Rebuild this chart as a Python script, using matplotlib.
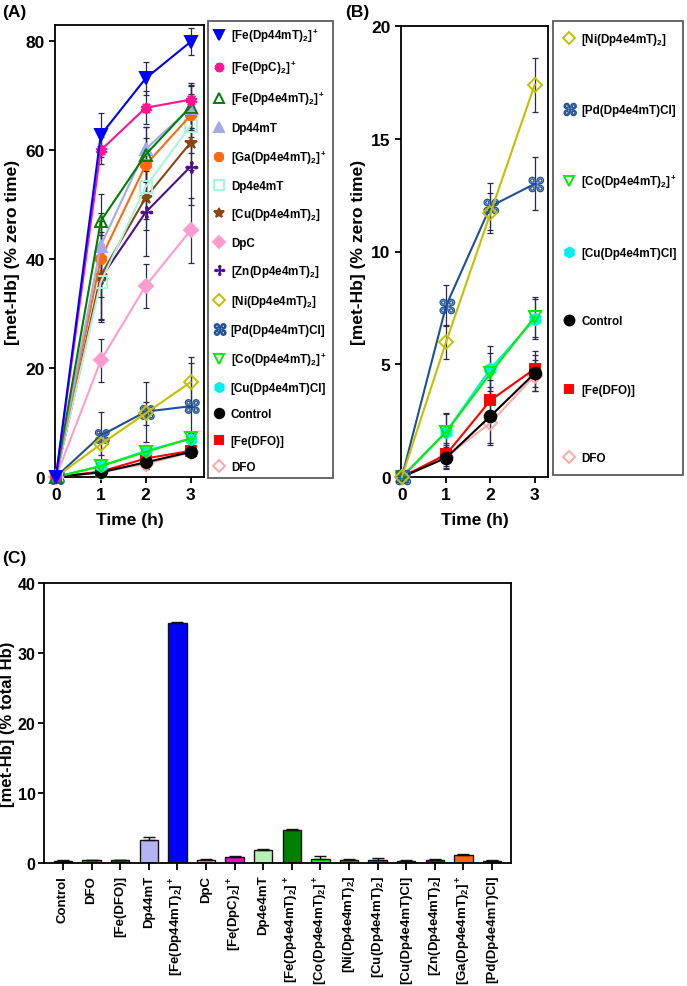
"""Met-Hb formation: time course (A, B) and bar summary (C)."""

import matplotlib
matplotlib.use("Agg")
import matplotlib.pyplot as plt
import numpy as np
from matplotlib.font_manager import FontProperties
from matplotlib.path import Path
from matplotlib.textpath import TextPath

plt.rcParams.update({
    "font.family": ["Liberation Sans", "DejaVu Sans"],
    "font.weight": "bold",
    "mathtext.fontset": "custom",
    "mathtext.rm": "Liberation Sans:bold",
    "mathtext.bf": "Liberation Sans:bold",
    "mathtext.it": "Liberation Sans:bold:italic",
    "axes.linewidth": 1.3,
})

# ---- data: panels A / B -------------------------------------------------
hours = [0, 1, 2, 3]

labels_a = [
    r"[Fe(Dp44mT)$_2$]$^+$", r"[Fe(DpC)$_2$]$^+$", r"[Fe(Dp4e4mT)$_2$]$^+$", "Dp44mT",
    r"[Ga(Dp4e4mT)$_2$]$^+$", "Dp4e4mT", r"[Cu(Dp4e4mT)$_2$]", "DpC",
    r"[Zn(Dp4e4mT)$_2$]", r"[Ni(Dp4e4mT)$_2$]", "[Pd(Dp4e4mT)Cl]", r"[Co(Dp4e4mT)$_2$]$^+$",
    "[Cu(Dp4e4mT)Cl]", "Control", "[Fe(DFO)]", "DFO",
]
fe_dp44mt = [0, 62.8, 73.2, 79.9]
fe_dpc = [0, 60.0, 67.8, 69.3]
fe_dp4e4mt = [0, 47.0, 59.2, 68.0]
dp44mt = [0, 42.5, 60.2, 67.8]
ga_dp4e4mt = [0, 40.1, 57.3, 66.4]
dp4e4mt = [0, 35.8, 53.3, 64.5]
cu_dp4e4mt = [0, 37.0, 51.3, 61.4]
dpc = [0, 21.4, 35.1, 45.3]
zn_dp4e4mt = [0, 36.5, 48.6, 57.0]
ni_dp4e4mt = [0, 6.0, 11.7, 17.4]
pd_dp4e4mt = [0, 7.6, 12.0, 13.0]
co_dp4e4mt = [0, 2.0, 4.6, 7.1]
cucl_dp4e4mt = [0, 2.0, 4.8, 7.0]
control = [0, 0.85, 2.7, 4.6]
fe_dfo = [0, 1.0, 3.4, 4.8]
dfo = [0, 0.9, 2.4, 4.5]
series_a = [fe_dp44mt, fe_dpc, fe_dp4e4mt, dp44mt, ga_dp4e4mt, dp4e4mt, cu_dp4e4mt, dpc,
            zn_dp4e4mt, ni_dp4e4mt, pd_dp4e4mt, co_dp4e4mt, cucl_dp4e4mt, control, fe_dfo, dfo]

err_a = [
    [0, 4.0, 3.0, 2.5], [0, 2.5, 3.0, 3.0], [0, 5.0, 5.0, 4.0], [0, 6.0, 4.0, 4.0],
    [0, 7.0, 5.0, 4.0], [0, 7.0, 6.0, 5.0], [0, 8.0, 6.0, 5.0], [0, 3.9, 4.0, 6.0],
    [0, 8.0, 8.0, 7.0], [0, 2.0, 2.1, 4.6], [0, 4.4, 5.5, 8.0], [0, 0.8, 1.0, 0.9],
    [0, 0.8, 1.0, 0.9], [0, 0.5, 1.3, 0.8], [0, 0.5, 1.0, 0.8], [0, 0.5, 1.0, 0.8],
]

# panel B shows the last seven series of A
b_index = [9, 10, 11, 12, 13, 14, 15]
err_b = [
    [0, 0.75, 0.9, 1.2], [0, 0.9, 1.05, 1.17], [0, 0.85, 0.9, 0.9], [0, 0.8, 1.0, 0.9],
    [0, 0.5, 1.3, 0.8], [0, 0.5, 0.9, 0.8], [0, 0.5, 0.9, 0.7],
]

# ---- data: panel C --------------------------------------------------------
bar_labels = [
    "Control", "DFO", "[Fe(DFO)]", "Dp44mT", r"[Fe(Dp44mT)$_2$]$^+$", "DpC",
    r"[Fe(DpC)$_2$]$^+$", "Dp4e4mT", r"[Fe(Dp4e4mT)$_2$]$^+$", r"[Co(Dp4e4mT)$_2$]$^+$",
    r"[Ni(Dp4e4mT)$_2$]", r"[Cu(Dp4e4mT)$_2$]", "[Cu(Dp4e4mT)Cl]", r"[Zn(Dp4e4mT)$_2$]",
    r"[Ga(Dp4e4mT)$_2$]$^+$", "[Pd(Dp4e4mT)Cl]",
]
bar_values = [0.35, 0.4, 0.4, 3.3, 34.3, 0.45, 0.9, 1.8, 4.7, 0.6, 0.45, 0.45, 0.35, 0.45, 1.2, 0.35]
bar_err = [0.15, 0.1, 0.1, 0.35, 0.2, 0.15, 0.15, 0.15, 0.1, 0.45, 0.15, 0.2, 0.1, 0.15, 0.15, 0.15]

# ---- styles ----------------------------------------------------------------
def glyph_marker(ch):
    tp = TextPath((0, 0), ch, size=1, prop=FontProperties(family="DejaVu Sans"))
    v = tp.vertices.copy()
    v -= (v.min(axis=0) + v.max(axis=0)) / 2
    return Path(v, tp.codes)

PD_MARK = glyph_marker("\u2318")
ZN_MARK = glyph_marker("\u2722")

colors_a = ["#0000ff", "#ff1493", "#008000", "#a8a8ec", "#ff6a10", "#a8f5d8", "#8b4513", "#ff9ccf",
            "#4b0f8c", "#c4c000", "#1f4f96", "#00ee00", "#00f0f0", "#000000", "#ff0000", "#ffa8a8"]
markers_a = ["v", (10, 1, 0), "^", "^", "8", "s", "*", "D",
             ZN_MARK, "D", PD_MARK, "v", "h", "o", "s", "D"]
filled_a = [True, True, False, True, True, False, True, True,
            True, False, False, False, True, True, True, False]
msize_a = [9, 8, 9, 8, 8, 9, 9, 7, 9, 7, 11, 8, 8, 8, 7, 7]
mew_a = [1.4, 1.4, 1.4, 1.4, 1.4, 1.4, 1.4, 1.4, 0.8, 1.4, 0.9, 1.4, 1.4, 1.4, 1.4, 1.4]

bar_colors = ["#1a1a1a", "#b0603a", "#8b1a8b", "#b4b4f4", "#0000ff", "#ffc0e0", "#ff00c8", "#b8f0b8",
              "#008000", "#00ff00", "#808040", "#8b4513", "#2e8b7a", "#800080", "#ff6600", "#1a1a1a"]

ERR_COLOR = "#2a2a4a"


def style_axes(ax, yticks, ylim):
    ax.set_xlim(-0.02, 3.3)
    ax.set_ylim(*ylim)
    ax.set_xticks(hours)
    ax.set_yticks(yticks)
    ax.tick_params(labelsize=12.5, width=1.3, length=4, direction="out")
    for t in ax.get_xticklabels() + ax.get_yticklabels():
        t.set_fontweight("bold")
    ax.set_xlabel("Time (h)", fontsize=12.5, fontweight="bold", labelpad=7)
    ax.set_ylabel("[met-Hb] (% zero time)", fontsize=12.5, fontweight="bold", labelpad=4)


def plot_series(ax, idx_list, errs, ms_scale=1.0):
    handles = []
    n = len(idx_list)
    for k, i in enumerate(idx_list):
        c = colors_a[i]
        mfc = c if filled_a[i] else "none"
        ax.errorbar(hours, series_a[i], yerr=errs[k], fmt="none", ecolor=ERR_COLOR,
                    elinewidth=0.9, capsize=2.5, capthick=0.9, zorder=2, clip_on=False)
        (h,) = ax.plot(hours, series_a[i], color=c, lw=1.5, marker=markers_a[i],
                       ms=msize_a[i] * ms_scale, mfc=mfc, mec=c, mew=mew_a[i],
                       zorder=3 + n - k, clip_on=False, label=labels_a[i])
        handles.append(h)
    return handles


def add_legend(handles, x0, y0, x1, y1, spacing, pad):
    leg = fig.legend(handles=handles, loc="upper left",
                     bbox_to_anchor=(x0 / W, 1 - y1 / H, (x1 - x0) / W, (y1 - y0) / H),
                     mode="expand", fontsize=8.4, frameon=True, fancybox=False,
                     edgecolor="#333333", handlelength=1.0, handletextpad=0.5,
                     labelspacing=spacing, borderpad=pad, borderaxespad=0, numpoints=1,
                     markerscale=0.85)
    leg.get_frame().set_linewidth(1.3)
    for h in leg.legend_handles:
        h.set_linestyle("none")
    return leg


fig = plt.figure(figsize=(6.87, 9.87), dpi=100)
W, H = 687.0, 987.0


def px_axes(x0, y0, x1, y1):
    return fig.add_axes([x0 / W, 1 - y1 / H, (x1 - x0) / W, (y1 - y0) / H])


# ---- panel A -------------------------------------------------------------
ax_a = px_axes(55, 26, 204, 478)
hs_a = plot_series(ax_a, list(range(16)), err_a)
style_axes(ax_a, [0, 20, 40, 60, 80], (0, 83))
add_legend(hs_a, 208, 22, 333, 478, 1.23, 0.45)

# ---- panel B -------------------------------------------------------------
ax_b = px_axes(401, 27, 548, 478)
hs_b = plot_series(ax_b, b_index, err_b, ms_scale=1.05)
style_axes(ax_b, [0, 5, 10, 15, 20], (0, 20))
add_legend(hs_b, 553, 22, 683, 478, 4.85, 0.9)

# ---- panel C -------------------------------------------------------------
ax_c = px_axes(44, 584, 511, 864)
x = np.arange(len(bar_values))
ax_c.bar(x, bar_values, width=0.64, color=bar_colors, edgecolor="#111111", linewidth=1.0, zorder=2)
ax_c.errorbar(x, bar_values, yerr=[np.zeros(len(bar_err)), bar_err], fmt="none",
              ecolor="#111111", elinewidth=1.0, capsize=4, capthick=1.0, zorder=3)
ax_c.set_xlim(-0.66, len(bar_values) - 0.34)
ax_c.set_ylim(0, 40)
ax_c.set_yticks([0, 10, 20, 30, 40])
ax_c.set_xticks(x)
ax_c.set_xticklabels(bar_labels, rotation=90, fontsize=9.5, fontweight="bold")
ax_c.tick_params(axis="y", labelsize=11.5, width=1.3, length=4, pad=2)
ax_c.tick_params(axis="x", width=1.3, length=5)
for t in ax_c.get_yticklabels():
    t.set_fontweight("bold")
ax_c.set_ylabel("[met-Hb] (% total Hb)", fontsize=12, fontweight="bold")
ax_c.yaxis.set_label_coords(-0.062, 0.5)

for lab, xx, yy in [("(A)", 2, 20), ("(B)", 345, 20), ("(C)", 2, 566)]:
    fig.text(xx / W, 1 - yy / H, lab, fontsize=12.5, fontweight="bold", va="bottom")

fig.savefig("out.png", dpi=100)
